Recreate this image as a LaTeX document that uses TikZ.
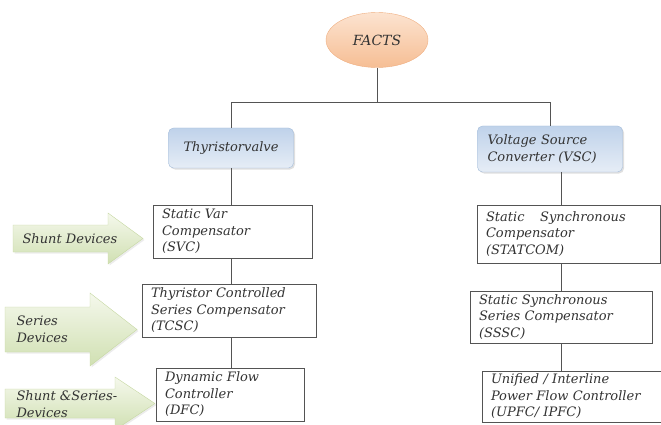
\documentclass[tikz,border=0pt]{standalone}
\usepackage{fontspec}
\setmainfont{DejaVu Serif}
\usetikzlibrary{shapes.geometric,shadows}
\definecolor{boxline}{rgb}{0.33,0.33,0.33}
\definecolor{txtgray}{rgb}{0.2,0.2,0.2}
\definecolor{peachtop}{HTML}{FCE3D0}
\definecolor{peachbot}{HTML}{F6BE94}
\definecolor{peachline}{HTML}{EFAE80}
\definecolor{bluetop}{HTML}{BFD2EA}
\definecolor{bluebot}{HTML}{E6EDF6}
\definecolor{blueline}{HTML}{A3BCDA}
\definecolor{greentop}{HTML}{F5F8EC}
\definecolor{greenbot}{HTML}{D0E0B2}
\definecolor{greenline}{HTML}{C6D8A2}

\begin{document}
\begin{tikzpicture}[x=1pt,y=-1pt,
  lbl/.style={font=\itshape\fontsize{13}{16.5}\selectfont, text=txtgray},
  device/.style={lbl, draw=boxline, line width=0.8pt, fill=white, align=left,
    inner xsep=9pt, inner ysep=2pt},
  family/.style={lbl, rounded corners=5pt, draw=blueline, top color=bluetop,
    bottom color=bluebot, drop shadow={opacity=0.25, shadow xshift=1.5pt, shadow yshift=-1.5pt}},
  kind/.style={draw=greenline, top color=greentop, bottom color=greenbot,
    drop shadow={opacity=0.15, shadow xshift=1.5pt, shadow yshift=-1.5pt}},
  link/.style={draw=boxline, line width=0.8pt}]

\useasboundingbox (0,0) rectangle (661,425);

% root
\node[lbl, ellipse, draw=peachline, top color=peachtop, bottom color=peachbot,
  minimum width=102pt, minimum height=55pt, font=\itshape\fontsize{14}{16}\selectfont,
  text=black!80] (facts) at (377,40) {FACTS};

% two families
\node[family, minimum width=125pt, minimum height=40pt] (thy) at (231,148) {Thyristorvalve};
\node[family, align=left, text width=125pt, inner xsep=10pt, minimum width=145pt,
  minimum height=46pt] (vsc) at (550,149) {Voltage Source\\Converter (VSC)};

% thyristor based devices
\node[device, text width=141pt, minimum height=53pt] (svc) at (232.5,231.5)
  {Static Var\\Compensator\\(SVC)};
\node[device, text width=156pt, minimum height=53pt] (tcsc) at (229,310.5)
  {Thyristor Controlled\\Series Compensator\\(TCSC)};
\node[device, text width=130pt, minimum height=53pt] (dfc) at (230,394.5)
  {Dynamic Flow\\Controller\\(DFC)};

% converter based devices
\node[device, text width=165pt, minimum height=58pt] (statcom) at (568.5,234)
  {Static\hspace{1.2em}Synchronous\\Compensator\\(STATCOM)};
\node[device, text width=164pt, minimum height=52pt] (sssc) at (561,317)
  {Static Synchronous\\Series Compensator\\(SSSC)};
\node[device, text width=170pt, minimum height=51pt] (upfc) at (576,396.5)
  {Unified / Interline\\Power Flow Controller\\(UPFC/ IPFC)};

% tree lines
\coordinate (top) at (377,102);
\draw[link] (facts.south) -- (top);
\draw[link] (thy.north) -- (thy.north |- top) -- (vsc.north |- top) -- (vsc.north);
\draw[link] (thy.south) -- (thy.south |- svc.north);
\draw[link] (thy.south |- svc.south) -- (thy.south |- tcsc.north);
\draw[link] (thy.south |- tcsc.south) -- (thy.south |- dfc.north);
\draw[link] (sssc.north |- vsc.south) -- (sssc.north |- statcom.north);
\draw[link] (sssc.north |- statcom.south) -- (sssc.north);
\draw[link] (sssc.south) -- (sssc.south |- upfc.north);

% side arrows
\path[kind] (13,225) -- (108,225) -- (108,213) -- (143,238.5) -- (108,264)
  -- (108,252) -- (13,252) -- cycle;
\path[kind] (5,307) -- (90,307) -- (90,293) -- (137,329.5) -- (90,366)
  -- (90,352) -- (5,352) -- cycle;
\path[kind] (5,389) -- (115,389) -- (115,377) -- (155,403.5) -- (115,430)
  -- (115,418) -- (5,418) -- cycle;
\node[lbl, anchor=west] (shunt) at (19,238.5) {Shunt Devices};
\node[lbl, anchor=west, align=left] (series) at (13,329.5) {Series\\Devices};
\node[lbl, anchor=west, align=left] (both) at (13,404) {Shunt \&Series-\\Devices};
\end{tikzpicture}
\end{document}
